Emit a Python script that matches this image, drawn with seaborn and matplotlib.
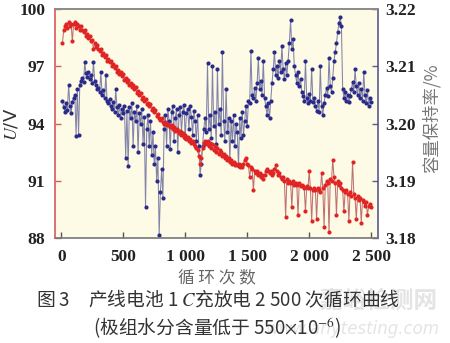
import numpy as np
import matplotlib
matplotlib.use("Agg")
import matplotlib.pyplot as plt
import seaborn as sns

# ---------------- data ----------------
cycles = np.arange(10, 2501, 10)

# red series (left axis, 88-100)
red_vals = [
    98.2, 98.9, 99.1, 99.2, 99.0, 99.3, 99.1, 99.2, 98.3, 99.2,
    99.3, 99.0, 99.2, 99.1, 98.9, 99.1, 98.9, 98.8, 98.9, 98.6,
    98.7, 98.5, 98.6, 98.3, 98.4, 97.9, 98.2, 98.0, 98.1, 97.9,
    97.8, 97.9, 97.6, 97.7, 97.5, 97.6, 97.3, 97.4, 97.2, 97.3,
    97.0, 97.1, 96.9, 97.0, 96.7, 96.8, 96.6, 96.7, 96.5, 96.6,
    96.3, 96.4, 96.2, 96.3, 96.0, 96.1, 95.9, 96.0, 95.8, 95.9,
    95.6, 95.7, 95.5, 95.6, 95.3, 95.4, 95.2, 95.3, 95.0, 95.1,
    94.9, 95.0, 94.7, 94.8, 94.6, 94.7, 94.4, 94.5, 94.3, 94.2,
    94.3, 94.1, 94.0, 94.1, 93.9, 94.0, 93.9, 93.8, 93.9, 93.7,
    93.8, 93.6, 93.7, 93.6, 93.5, 93.6, 93.4, 93.5, 93.3, 93.4,
    93.2, 93.3, 93.1, 93.2, 93.0, 93.1, 92.9, 92.8, 92.7, 92.6,
    92.3, 91.9, 92.2, 92.7, 93.0, 93.1, 92.9, 93.1, 92.8, 93.0,
    92.7, 92.9, 92.6, 92.8, 92.5, 92.7, 92.4, 92.6, 92.5, 92.3,
    92.4, 92.2, 92.3, 92.1, 92.2, 92.0, 92.1, 91.9, 92.0, 91.8,
    91.9, 91.8, 91.9, 91.7, 91.8, 91.7, 91.9, 92.1, 92.2, 91.9,
    91.8, 91.2, 91.7, 91.6, 90.5, 91.5, 91.4, 91.5, 91.3, 91.4,
    91.2, 91.3, 91.1, 91.3, 91.5, 91.6, 91.5, 91.4, 91.5, 91.3,
    91.4, 91.6, 91.8, 91.5, 91.3, 91.4, 91.2, 91.1, 91.2, 91.0,
    89.1, 91.1, 90.9, 91.0, 90.9, 89.6, 91.0, 90.8, 90.9, 90.8,
    89.2, 90.9, 90.7, 90.8, 90.7, 90.6, 89.4, 90.7, 90.6, 91.5,
    90.6, 88.9, 90.5, 90.6, 90.5, 89.0, 90.6, 90.5, 90.4, 91.4,
    90.6, 88.6, 90.8, 91.0, 90.9, 88.3, 91.1, 91.0, 92.1, 91.2,
    90.9, 89.2, 91.0, 90.8, 90.9, 90.6, 90.5, 89.4, 90.4, 90.5,
    90.3, 88.9, 90.4, 90.2, 92.0, 90.3, 90.1, 89.0, 90.2, 90.0,
    90.1, 88.8, 90.0, 89.9, 89.7, 89.9, 89.2, 89.7, 89.8, 89.6,
]

# blue series (right axis, 3.18-3.22)
blue_vals = [
    3.2040, 3.2028, 3.2020, 3.2035, 3.2024, 3.2068, 3.2030, 3.2018, 3.2038, 3.2045,
    3.2050, 3.1978, 3.2060, 3.1980, 3.2068, 3.2075, 3.2080, 3.2072, 3.2107, 3.2088,
    3.2082, 3.2090, 3.2078, 3.2084, 3.2070, 3.2108, 3.2075, 3.2068, 3.2060, 3.2062,
    3.2055, 3.2090, 3.2050, 3.2058, 3.2045, 3.2085, 3.2040, 3.2035, 3.2042, 3.2030,
    3.2025, 3.2038, 3.2020, 3.2060, 3.2028, 3.2015, 3.2032, 3.2010, 3.2025, 3.2018,
    3.2030, 3.1940, 3.2022, 3.1925, 3.2028, 3.2010, 3.2035, 3.1960, 3.2020, 3.2005,
    3.2030, 3.1950, 3.2018, 3.2000, 3.2025, 3.1965, 3.2012, 3.1855, 3.1990, 3.2015,
    3.1960, 3.2005, 3.1945, 3.1985, 3.1930, 3.1960, 3.1900, 3.1940, 3.1805, 3.1880,
    3.1920, 3.1870, 3.1990, 3.2015, 3.1960, 3.2025, 3.2005, 3.1955, 3.2020, 3.2030,
    3.1970, 3.2010, 3.2025, 3.1950, 3.2015, 3.2028, 3.1985, 3.2020, 3.2032, 3.1975,
    3.2018, 3.2025, 3.1990, 3.2030, 3.2012, 3.1980, 3.2022, 3.2005, 3.1970, 3.2015,
    3.1960, 3.1910, 3.1930, 3.1960, 3.1990, 3.2010, 3.1985, 3.2105, 3.1990, 3.2015,
    3.1975, 3.2100, 3.1995, 3.2020, 3.1965, 3.2095, 3.2000, 3.2025, 3.1980, 3.2125,
    3.2005, 3.1970, 3.2060, 3.1985, 3.2010, 3.1935, 3.2005, 3.1970, 3.2015, 3.1960,
    3.2000, 3.1985, 3.1925, 3.2010, 3.1975, 3.2020, 3.1980, 3.2005, 3.2030, 3.1995,
    3.2040, 3.2035, 3.2126, 3.2050, 3.2045, 3.2062, 3.2040, 3.2070, 3.2115, 3.2060,
    3.2075, 3.2050, 3.2110, 3.2045, 3.2030, 3.2015, 3.2035, 3.2010, 3.2040, 3.2070,
    3.2095, 3.2125, 3.2085, 3.2100, 3.2080, 3.2110, 3.2090, 3.2135, 3.2095, 3.2078,
    3.2105, 3.2085, 3.2110, 3.2140, 3.2180, 3.2130, 3.2148, 3.2100, 3.2085, 3.2070,
    3.2090, 3.2065, 3.2078, 3.2055, 3.2048, 3.2040, 3.2110, 3.2045, 3.2035, 3.2052,
    3.2040, 3.2095, 3.2038, 3.2045, 3.2030, 3.2022, 3.2040, 3.2020, 3.2100, 3.2030,
    3.2015, 3.2035, 3.2050, 3.2062, 3.2048, 3.2115, 3.2065, 3.2055, 3.2080, 3.2110,
    3.2125, 3.2140, 3.2160, 3.2175, 3.2186, 3.2170, 3.2060, 3.2045, 3.2055, 3.2040,
    3.2050, 3.2038, 3.2048, 3.2060, 3.2072, 3.2055, 3.2095, 3.2065, 3.2050, 3.2070,
    3.2045, 3.2060, 3.2040, 3.2090, 3.2050, 3.2035, 3.2058, 3.2030, 3.2045, 3.2038,
]

x_ticks = [0, 500, 1000, 1500, 2000, 2500]
x_tick_labels = ["0", "500", "1 000", "1 500", "2 000", "2 500"]
left_ticks = [88, 91, 94, 97, 100]
right_ticks = [3.18, 3.19, 3.20, 3.21, 3.22]
right_tick_labels = ["3.18", "3.19", "3.20", "3.21", "3.22"]

assert len(red_vals) == len(cycles) == len(blue_vals)

# ---------------- style ----------------
plt.rcParams["mathtext.fontset"] = "stix"
cjk = ["Noto Sans CJK SC", "DejaVu Sans"]
serif_bold = dict(family="Liberation Serif", weight="bold", size=12.5)

fig = plt.figure(figsize=(4.5, 3.43), dpi=100)
fig.patch.set_facecolor("white")
ax = fig.add_axes([55 / 450, 1 - 238 / 343, (378 - 55) / 450, (238 - 9) / 343])
ax2 = ax.twinx()

ax2.set_zorder(1)
ax.set_zorder(2)
ax.patch.set_visible(False)
ax2.patch.set_visible(True)
ax2.patch.set_facecolor("#fdfbe6")

# blue on right axis
sns.lineplot(x=cycles, y=blue_vals, ax=ax2, estimator=None, sort=False,
             color="#8383a8", linewidth=0.75, marker="o", markersize=3.0,
             markerfacecolor="#2a2a88", markeredgecolor="#2a2a88",
             markeredgewidth=0)
# red on left axis
sns.lineplot(x=cycles, y=red_vals, ax=ax, estimator=None, sort=False,
             color="#c07070", linewidth=0.75, marker="o", markersize=3.0,
             markerfacecolor="#e02424", markeredgecolor="#e02424",
             markeredgewidth=0)

ax.set_xlim(-50, 2555)
ax.set_ylim(88, 100)
ax2.set_ylim(3.18, 3.22)

ax.set_xticks(x_ticks)
ax.set_xticklabels(x_tick_labels, fontdict=serif_bold)
ax.set_yticks(left_ticks)
ax.set_yticklabels([str(v) for v in left_ticks], fontdict=serif_bold)
ax2.set_yticks(right_ticks)
ax2.set_yticklabels(right_tick_labels, fontdict=serif_bold)

ax.set_xlabel("")
ax.set_ylabel("")
ax2.set_ylabel("")

ax.tick_params(axis="x", direction="in", length=4, width=1, color="#555555",
               pad=8, labelcolor="#222222")
ax.tick_params(axis="y", direction="in", length=4, width=1, color="#d65a5a",
               pad=7, labelcolor="#222222")
ax2.tick_params(axis="y", direction="in", length=4, width=1, color="#5a5a8a",
                pad=5, labelcolor="#222222")

for s in ["top", "bottom", "left", "right"]:
    ax2.spines[s].set_visible(False)
ax.spines["right"].set_visible(True)
ax.spines["left"].set_color("#d65a5a")
ax.spines["left"].set_linewidth(1.2)
ax.spines["right"].set_color("#5a5a8a")
ax.spines["right"].set_linewidth(1.2)
ax.spines["top"].set_color("#8a8a8a")
ax.spines["top"].set_linewidth(1.4)
ax.spines["bottom"].set_color("#777777")
ax.spines["bottom"].set_linewidth(1.2)

# axis titles
fig.text(12 / 450, 1 - 124 / 343, r"$\mathit{U}$/V", rotation=90,
         ha="center", va="center", fontsize=13, color="#333333")
fig.text(432 / 450, 1 - 118 / 343, "容量保持率/%", rotation=90,
         ha="center", va="center", fontsize=12.5, color="#777777", family=cjk)
fig.text(217 / 450, 1 - 278 / 343, "循 环 次 数", ha="center", va="center",
         fontsize=12, color="#666666", family=cjk)

# watermark
fig.text(437 / 450, 1 - 301 / 343, "嘉峪检测网", ha="right", va="center",
         fontsize=17, color="#e4e4e4", family=cjk, weight="bold", zorder=0)
fig.text(440 / 450, 1 - 329 / 343, "www.anytesting.com", ha="right",
         va="center", fontsize=12, color="#e4e4e4", style="italic",
         family="DejaVu Sans", zorder=0)

# caption
fig.text(218 / 450, 1 - 300 / 343,
         "图 3　产线电池 1 $\\mathit{C}$充放电 2 500 次循环曲线",
         ha="center", va="center", fontsize=13.5, color="#333333", family=cjk,
         zorder=3)
fig.text(217 / 450, 1 - 328 / 343,
         "(极组水分含量低于 550$\\times$10$^{-6}$)",
         ha="center", va="center", fontsize=13.5, color="#333333", family=cjk,
         zorder=3)

fig.savefig("out.png", dpi=100, facecolor="white")
